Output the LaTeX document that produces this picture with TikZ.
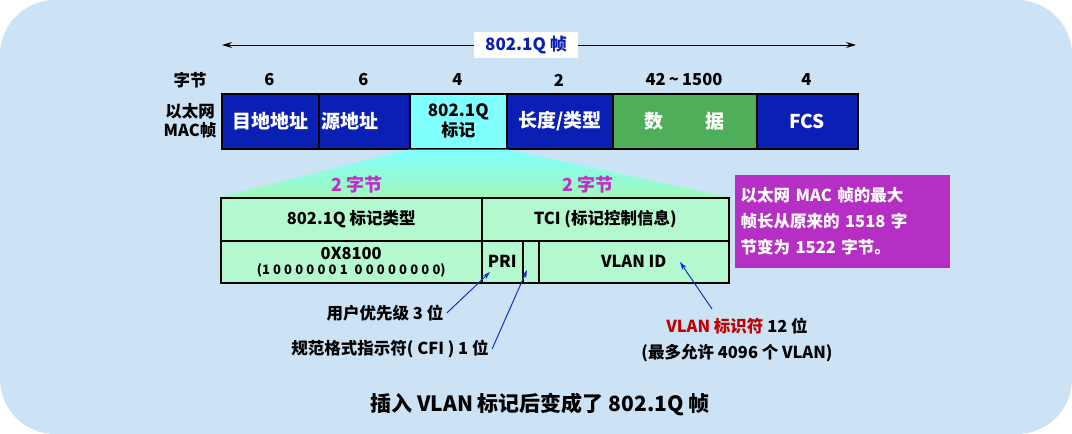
\documentclass[tikz,border=0pt]{standalone}
\usepackage{fontspec}
\setmainfont{Noto Sans CJK SC}
\usetikzlibrary{arrows.meta}
\definecolor{bgb}{HTML}{CCE3F6}
\definecolor{dblue}{HTML}{0A1FB4}
\definecolor{cyanb}{HTML}{80FFFF}
\definecolor{gdata}{HTML}{4FAE5A}
\definecolor{lgreen}{HTML}{B4F8D0}
\definecolor{purp}{HTML}{B62FC4}
\definecolor{mag}{HTML}{C030C8}
\definecolor{arr}{HTML}{1030D0}
\newcommand\bsp{\hspace{3.2pt}}
\begin{document}
\begin{tikzpicture}[x=1pt,y=-1pt,font=\bfseries\fontsize{16.5}{19}\selectfont,
 fld/.style={draw=black,line width=1.5pt,fill=dblue,text=white,font=\bfseries\fontsize{19}{22}\selectfont},
 cell/.style={draw=black,line width=1.5pt,fill=lgreen},
 pa/.style={arr,line width=1pt,-{Stealth[length=8pt,width=5pt]}}]
\useasboundingbox (0,0) rectangle (1072,434);
\fill[white] (0,0) rectangle (1072,434);
\fill[bgb,rounded corners=55pt] (0,0) rectangle (1072,434);
% top arrow
\coordinate (la) at (222,45); \coordinate (ra) at (856,45);
\draw[line width=1pt,{Stealth[length=10pt,width=6pt]}-{Stealth[length=10pt,width=6pt]}] (la) -- (ra);
\node[fill=white,minimum width=104pt,minimum height=26pt,text=dblue,inner sep=0pt,font=\bfseries\fontsize{17}{20}\selectfont] (tt) at (526,45) {802.1Q 帧};
% byte counts
\node (zj) at (190,80) {字节};
\foreach \x/\t [count=\i] in {269.5/6,363.5/6,457.5/4,559/2,684/42\bsp\char`~\bsp1500,806.5/4} \node (b\i) at (\x,80) {\t};
\node[align=center,font=\bfseries\fontsize{16.5}{19}\selectfont] (mac) at (190,121) {以太网\\MAC帧};
% fields
\node[fld,minimum width=97pt,minimum height=55pt,anchor=north west,inner sep=0pt] (f1) at (221,93) {目地地址};
\node[fld,minimum width=91pt,minimum height=55pt,anchor=north west,inner sep=0pt,text width=85pt,align=left] (f2) at (318,93) {源地址};
\node[fld,fill=cyanb,text=black,minimum width=97pt,minimum height=55pt,anchor=north west,inner sep=0pt,align=center,font=\bfseries\fontsize{17}{20}\selectfont] (f3) at (409,93) {802.1Q\\标记};
\node[fld,minimum width=106pt,minimum height=55pt,anchor=north west,inner sep=0pt] (f4) at (506,93) {长度/类型};
\node[fld,fill=gdata,minimum width=144pt,minimum height=55pt,anchor=north west,inner sep=0pt] (f5) at (612,93) {数\hspace{2.2em}据};
\node[fld,minimum width=101pt,minimum height=55pt,anchor=north west,inner sep=0pt] (f6) at (756,93) {FCS};
% funnel
\shade[top color=cyanb,bottom color=lgreen!90!green] (f3.south west) -- (f3.south east) -- (728,197) -- (220,197) -- cycle;
\node[text=mag,font=\bfseries\fontsize{18}{20}\selectfont] (l1) at (357,185) {2 字节};
\node[text=mag,font=\bfseries\fontsize{18}{20}\selectfont] (l2) at (588,185) {2 字节};
% table
\node[cell,minimum width=261pt,minimum height=43pt,anchor=north west,inner sep=0pt] (c1) at (220,197) {802.1Q 标记类型};
\node[cell,minimum width=247pt,minimum height=43pt,anchor=north west,inner sep=0pt] (c2) at (481,197) {TCI (标记控制信息)};
\node[cell,minimum width=261pt,minimum height=42pt,anchor=north west,inner sep=0pt,align=center] (c3) at (220,240) {0X8100\\[-4pt]{\fontsize{13}{14}\selectfont (1\bsp0\bsp0\bsp0\bsp0\bsp0\bsp0\bsp1\hspace{7pt}0\bsp0\bsp0\bsp0\bsp0\bsp0\bsp0\bsp0)}};
\node[cell,minimum width=41pt,minimum height=42pt,anchor=north west,inner sep=0pt] (c4) at (481,240) {PRI};
\node[cell,minimum width=16pt,minimum height=42pt,anchor=north west,inner sep=0pt] (c5) at (522,240) {};
\node[cell,minimum width=190pt,minimum height=42pt,anchor=north west,inner sep=0pt] (c6) at (538,240) {VLAN ID};
% purple note
\node[fill=purp,text=white,minimum width=215pt,minimum height=93pt,anchor=north west,align=left,inner sep=0pt,text width=210pt,font=\bfseries\fontsize{16.5}{26}\selectfont] (note) at (735,175) {\hspace*{3pt}以太网 MAC 帧的最大\\\hspace*{3pt}帧长从原来的 1518 字\\\hspace*{3pt}节变为 1522 字节。};
% annotations
\node (a1) at (385,313) {用户优先级 3 位};
\node (a2) at (390,349) {规范格式指示符( CFI ) 1 位};
\node (a3) at (737,326) {\textcolor{red!75!black}{VLAN 标识符} 12 位};
\node (a4) at (737,353) {(最多允许 4096 个 VLAN)};
\coordinate (p1) at (490,272); \coordinate (p2) at (527,270); \coordinate (p3) at (680,262);
\draw[pa] (a1.east) -- (p1);
\draw[pa] (a2.east) -- (p2);
\draw[pa] (712,309) -- (p3);
\node[font=\bfseries\fontsize{21}{24}\selectfont] (title) at (540,405) {插入 VLAN 标记后变成了 802.1Q 帧};
\end{tikzpicture}
\end{document}
